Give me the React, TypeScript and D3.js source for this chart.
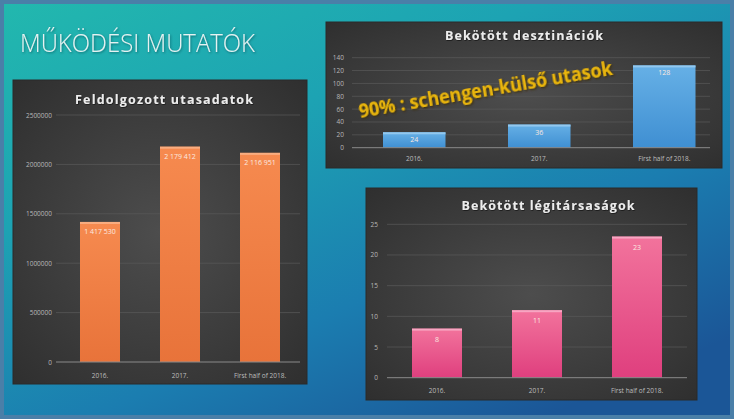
import React from "react";
import * as d3 from "d3";

// ---- data ----
const categories = ["2016.", "2017.", "First half of 2018."];

const passengerValues = [1417530, 2179412, 2116951];
const passengerLabels = ["1 417 530", "2 179 412", "2 116 951"];
const passengerTicks = [0, 500000, 1000000, 1500000, 2000000, 2500000];

const destinationValues = [24, 36, 128];
const destinationTicks = [0, 20, 40, 60, 80, 100, 120, 140];

const airlineValues = [8, 11, 23];
const airlineTicks = [0, 5, 10, 15, 20, 25];

const slideTitle = "MŰKÖDÉSI MUTATÓK";
const titles = ["Feldolgozott utasadatok", "Bekötött desztinációk", "Bekötött légitársaságok"];
const annotation = "90% : schengen-külső utasok";

type PanelProps = {
  box: [number, number, number, number];
  title: string;
  titleX: number;
  titleY: number;
  titleW: number;
  grid: [number, number];
  yRange: [number, number];
  band: [number, number];
  paddingOuter: number;
  values: number[];
  labels: string[];
  ticks: number[];
  tickX: number;
  catY: number;
  labelOffset: number;
  grad: string;
  hi: string;
};

function Panel(p: PanelProps) {
  const [bx, by, bw, bh] = p.box;
  const y = d3.scaleLinear().domain([0, p.ticks[p.ticks.length - 1]]).range(p.yRange);
  const x = d3
    .scaleBand<string>()
    .domain(categories)
    .range(p.band)
    .paddingInner(0.5)
    .paddingOuter(p.paddingOuter);
  const fmt = d3.format("d");
  return (
    <g>
      <rect x={bx} y={by} width={bw} height={bh} fill="url(#panelBg)" stroke="#2a2a2a" strokeWidth={1} />
      <text
        x={p.titleX}
        y={p.titleY}
        textAnchor="middle"
        fontFamily="'Open Sans', sans-serif"
        fontWeight={700}
        fontSize={12.5}
        fill="#ececec"
        textLength={p.titleW}
        lengthAdjust="spacing"
        filter="url(#txtShadow)"
      >
        {p.title}
      </text>
      {p.ticks.map((t) => (
        <g key={t}>
          {t > 0 && (
            <line x1={p.grid[0]} x2={p.grid[1]} y1={y(t)} y2={y(t)} stroke="#5a5a5a" strokeWidth={0.7} />
          )}
          <text
            x={p.tickX}
            y={y(t) + 2.5}
            textAnchor="end"
            fontFamily="'Open Sans', sans-serif"
            fontSize={6.5}
            fill="#b8b8b8"
          >
            {fmt(t)}
          </text>
        </g>
      ))}
      {p.values.map((v, i) => {
        const c = categories[i];
        const x0 = x(c)!;
        const w = x.bandwidth();
        const top = y(v);
        return (
          <g key={c}>
            <rect x={x0} y={top} width={w} height={y(0) - top} fill={`url(#${p.grad})`} />
            <rect x={x0} y={top} width={w} height={2} fill={p.hi} />
            <text
              x={x0 + w / 2}
              y={top + p.labelOffset}
              textAnchor="middle"
              fontFamily="'Open Sans', sans-serif"
              fontSize={7}
              fill="#fbe9e0"
            >
              {p.labels[i]}
            </text>
            <text
              x={x0 + w / 2}
              y={p.catY}
              textAnchor="middle"
              fontFamily="'Open Sans', sans-serif"
              fontSize={6.5}
              fill="#bdbdbd"
            >
              {c}
            </text>
          </g>
        );
      })}
      <line x1={p.grid[0]} x2={p.grid[1]} y1={y(0)} y2={y(0)} stroke="#8a8a8a" strokeWidth={1} />
    </g>
  );
}

export default function App() {
  return (
    <svg
      width={734}
      height={419}
      style={{ position: "absolute", left: 0, top: 0 }}
      xmlns="http://www.w3.org/2000/svg"
    >
      <defs>
        <linearGradient id="slideBg" x1="0" y1="0" x2="0.75" y2="1">
          <stop offset="0" stopColor="#22b8ae" />
          <stop offset="0.35" stopColor="#1da3b3" />
          <stop offset="0.7" stopColor="#1b7db0" />
          <stop offset="1" stopColor="#1b5697" />
        </linearGradient>
        <radialGradient id="panelBg" cx="0.5" cy="0.5" r="0.7">
          <stop offset="0" stopColor="#4d4d4d" />
          <stop offset="1" stopColor="#2f2f2f" />
        </radialGradient>
        <linearGradient id="gOrange" x1="0" y1="0" x2="0" y2="1">
          <stop offset="0" stopColor="#f68a4f" />
          <stop offset="1" stopColor="#e8733a" />
        </linearGradient>
        <linearGradient id="gBlue" x1="0" y1="0" x2="0" y2="1">
          <stop offset="0" stopColor="#66b0e6" />
          <stop offset="1" stopColor="#3f8fd2" />
        </linearGradient>
        <linearGradient id="gPink" x1="0" y1="0" x2="0" y2="1">
          <stop offset="0" stopColor="#f2739c" />
          <stop offset="1" stopColor="#df3f7e" />
        </linearGradient>
        <filter id="txtShadow" x="-10%" y="-30%" width="120%" height="160%">
          <feDropShadow dx="0.6" dy="0.8" stdDeviation="0.6" floodColor="#000" floodOpacity="0.6" />
        </filter>
        <filter id="glow" x="-10%" y="-30%" width="120%" height="160%">
          <feDropShadow dx="0.8" dy="1" stdDeviation="0.8" floodColor="#0b3d45" floodOpacity="0.6" />
        </filter>
        <filter id="goldShadow" x="-10%" y="-30%" width="120%" height="160%">
          <feDropShadow dx="1" dy="1.2" stdDeviation="0.8" floodColor="#3a2a00" floodOpacity="0.9" />
        </filter>
      </defs>

      <rect x={0} y={0} width={734} height={419} fill="#4a7fa8" />
      <rect x={4} y={4} width={726} height={411} fill="url(#slideBg)" />

      <text
        x={20}
        y={52}
        fontFamily="'Open Sans', sans-serif"
        fontWeight={300}
        fontSize={26}
        fill="#e6f2f2"
        textLength={235}
        lengthAdjust="spacingAndGlyphs"
        filter="url(#glow)"
      >
        {slideTitle}
      </text>

      <Panel
        box={[13, 80, 294, 304]}
        title={titles[0]}
        titleX={164}
        titleY={103.5}
        titleW={178}
        grid={[56, 300]}
        yRange={[362, 115]}
        band={[60, 300]}
        paddingOuter={0.25}
        values={passengerValues}
        labels={passengerLabels}
        ticks={passengerTicks}
        tickX={52}
        catY={377.5}
        labelOffset={12.5}
        grad="gOrange"
        hi="#f9ad80"
      />

      <Panel
        box={[326, 22, 396, 146]}
        title={titles[1]}
        titleX={524}
        titleY={40}
        titleW={158}
        grid={[352, 710]}
        yRange={[147.7, 57.7]}
        band={[358, 720.5]}
        paddingOuter={0.2}
        values={destinationValues}
        labels={destinationValues.map(String)}
        ticks={destinationTicks}
        tickX={344}
        catY={161}
        labelOffset={10}
        grad="gBlue"
        hi="#92c8ef"
      />

      <Panel
        box={[366, 188, 331, 212]}
        title={titles[2]}
        titleX={548}
        titleY={210}
        titleW={173}
        grid={[387, 687]}
        yRange={[377.7, 224.3]}
        band={[387, 687]}
        paddingOuter={0.25}
        values={airlineValues}
        labels={airlineValues.map(String)}
        ticks={airlineTicks}
        tickX={378}
        catY={392.5}
        labelOffset={13}
        grad="gPink"
        hi="#f7a6c2"
      />

      <text
        x={360}
        y={117.5}
        transform="rotate(-9.7 360 117.5)"
        fontFamily="'Open Sans', sans-serif"
        fontWeight={700}
        fontSize={19}
        fill="#e9b50c"
        textLength={257}
        lengthAdjust="spacingAndGlyphs"
        filter="url(#goldShadow)"
      >
        {annotation}
      </text>
    </svg>
  );
}
